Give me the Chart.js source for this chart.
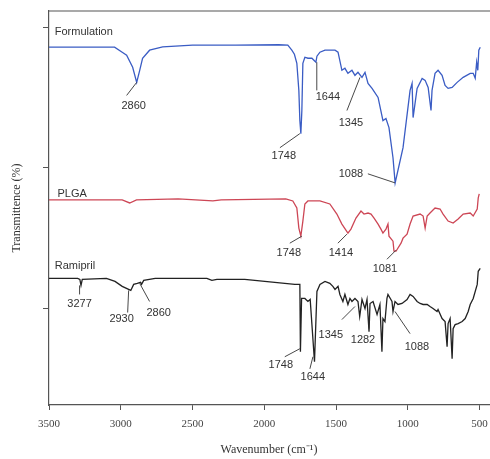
<!DOCTYPE html>
<html>
<head>
<meta charset="utf-8">
<script src="https://cdn.jsdelivr.net/npm/chart.js@4/dist/chart.umd.min.js"></script>
<style>
  html, body { margin: 0; padding: 0; background: #fff; }
  #wrap { width: 490px; height: 459px; }
</style>
</head>
<body>
<div id="wrap"><canvas id="ftir"></canvas></div>
<script>
// FTIR spectra, wavenumber (cm-1) vs offset transmittance (arbitrary units)
const formWave = [3500,3100,3043,2990,2959,2917,2889,2868,2848,2799,2708,2500,2200,1900,1836,1808,1790,1773,1759,1752,1745,1738,1731,1717,1696,1668,1647,1640,1633,1612,1577,1507,1486,1459,1438,1417,1389,1368,1347,1319,1298,1277,1249,1207,1173,1152,1131,1103,1088,1033,984,970,963,935,900,879,858,838,831,810,789,761,740,719,691,656,614,565,544,530,520,512,505,495];
const formT = [89,89,89,87.75,87,84,80.25,83.25,86.25,88.25,89.1,89.5,89.5,89.6,89.5,88.25,87.25,85,78.25,70.75,67.5,73.25,85,86.5,86.25,86.25,85.5,85.25,86.75,87.75,88.25,88.25,87.75,83.25,83.75,82.5,83.25,82,82.75,81.5,82.75,80,78.75,76.5,70.75,71.25,69,61.5,55.25,64,78.25,80,71.5,78.75,81.25,80.75,79,73.25,78.25,82.5,83.25,82,79.5,78.75,79,80.25,81.5,82.5,82.5,81.25,85.25,83.25,88.25,89];

const plgaWave = [3500,2990,2938,2890,2600,2358,2300,1850,1801,1773,1759,1745,1731,1717,1696,1612,1543,1494,1459,1417,1396,1361,1326,1305,1277,1256,1235,1207,1187,1173,1152,1138,1131,1103,1096,1082,1047,1033,1005,984,963,914,893,879,865,845,810,775,754,719,684,649,614,565,544,516,509,502];
const plgaT = [51,51,50.25,51,51.25,50.75,51,51.25,50.75,49,44,42,45.75,50,50.75,50.75,50,47.5,45,42.75,43.75,46.5,48.25,47.5,47.75,47.5,46.5,45,43.75,42.75,43.75,45,42,40.75,38.25,38.25,40.25,41.5,42.5,45,47,47.5,47,44,47,47.75,49,48.75,47.5,45.75,45.25,46.25,47.5,47.75,47,48.75,51.5,52.5];

const ramWave = [3500,3300,3285,3277,3268,3100,3040,2990,2945,2930,2910,2885,2862,2855,2840,2760,2400,2365,2330,2136,1857,1787,1752,1748,1740,1717,1696,1680,1650,1633,1612,1577,1543,1522,1507,1486,1473,1452,1438,1417,1403,1389,1368,1347,1335,1319,1298,1284,1270,1263,1242,1214,1194,1180,1173,1159,1145,1138,1110,1103,1089,1068,1040,1005,984,963,935,914,893,865,845,824,796,789,761,740,726,719,705,691,684,670,649,621,600,579,565,544,516,509,495];
const ramT = [31.5,31.5,31.25,29.75,31.25,31.5,30.75,29.5,28.75,28.5,30,30.25,30.5,30,31,31.5,31.5,31,31.25,31.25,30.25,30,30,13.25,26.5,26.5,25.75,26.25,10.75,28.25,30,30.75,30.25,29.5,28.75,29.5,27.5,25.75,27.5,25,26.5,25.75,26.5,25.75,22,26.25,24,26.25,18.25,25.25,25.75,22.5,25,13.25,21.5,20.75,26.5,27.5,25.75,23.25,25.75,25,25.25,26.25,27.5,27,25.75,25.25,25,25,24.5,24,23.25,23.75,21.5,20.75,14.5,20.25,21.5,11.5,19,20,20.25,20.75,21.5,23.25,25,26.5,30,33.25,34];

const xTicks = [3500, 3000, 2500, 2000, 1500, 1000, 500];
const yTicks = [24, 59, 94];

// spectrum names: [text, wavenumber, value]
const seriesNames = [
  ['Formulation', 3460, 92.75],
  ['PLGA', 3441, 52.5],
  ['Ramipril', 3460, 34.5]
];

// peak labels: [text, wavenumber, value, leader from (w, v), leader to (w, v)]
const peakNotes = [
  ['2860', 2910, 74.5, 2889, 80.25, 2959, 77],
  ['1748', 1864, 62, 1752, 67.5, 1891, 64],
  ['1644', 1556, 76.5, 1634, 85.25, 1634, 78.25],
  ['1345', 1396, 70.25, 1333, 81.5, 1424, 73.25],
  ['1088', 1396, 57.5, 1089, 55.25, 1278, 57.5],
  ['1748', 1829, 37.75, 1738, 42, 1822, 40.25],
  ['1414', 1466, 37.75, 1424, 42.5, 1487, 40.25],
  ['1081', 1159, 33.75, 1082, 38.5, 1145, 36.25],
  ['3277', 3287, 25.25, 3287, 29.75, 3287, 27.5],
  ['2930', 2994, 21.5, 2945, 28.5, 2952, 23],
  ['2860', 2736, 23, 2868, 30.25, 2799, 25.75],
  ['1748', 1885, 10, 1752, 14, 1857, 12],
  ['1644', 1662, 7, 1661, 12, 1682, 9],
  ['1345', 1536, 17.5, 1368, 24.5, 1459, 21.25],
  ['1282', 1312, 16.25, 1270, 22, 1270, 19],
  ['1088', 936, 14.5, 1089, 23.25, 984, 17.75]
];

function pts(ws, ts) {
  return ws.map((w, i) => ({ x: w, y: ts[i] }));
}

const notesPlugin = {
  id: 'notes',
  afterDatasetsDraw(chart) {
    const ctx = chart.ctx;
    const xs = chart.scales.x, ys = chart.scales.y;
    const area = chart.chartArea;
    ctx.save();
    // top frame line
    ctx.strokeStyle = '#555';
    ctx.lineWidth = 1.2;
    ctx.beginPath();
    ctx.moveTo(area.left, area.top);
    ctx.lineTo(chart.width, area.top);
    ctx.stroke();

    ctx.fillStyle = '#333';
    ctx.font = '11px "Liberation Sans", Arial, sans-serif';
    ctx.textBaseline = 'middle';
    ctx.textAlign = 'left';
    seriesNames.forEach(n => {
      ctx.fillText(n[0], xs.getPixelForValue(n[1]), ys.getPixelForValue(n[2]));
    });

    ctx.textAlign = 'center';
    ctx.strokeStyle = '#333';
    ctx.lineWidth = 0.9;
    peakNotes.forEach(p => {
      ctx.fillText(p[0], xs.getPixelForValue(p[1]), ys.getPixelForValue(p[2]));
      ctx.beginPath();
      ctx.moveTo(xs.getPixelForValue(p[3]), ys.getPixelForValue(p[4]));
      ctx.lineTo(xs.getPixelForValue(p[5]), ys.getPixelForValue(p[6]));
      ctx.stroke();
    });
    ctx.restore();
  }
};

new Chart(document.getElementById('ftir'), {
  type: 'line',
  data: {
    datasets: [
      { label: 'Formulation', data: pts(formWave, formT), borderColor: 'rgb(58, 92, 196)', borderWidth: 1.3 },
      { label: 'PLGA', data: pts(plgaWave, plgaT), borderColor: 'rgb(205, 70, 85)', borderWidth: 1.3 },
      { label: 'Ramipril', data: pts(ramWave, ramT), borderColor: '#222', borderWidth: 1.3 }
    ]
  },
  options: {
    responsive: true,
    maintainAspectRatio: false,
    animation: false,
    layout: { padding: { top: 11, right: 1, left: 0, bottom: 0 } },
    elements: {
      point: { radius: 0 },
      line: { tension: 0, fill: false }
    },
    plugins: {
      legend: { display: false },
      tooltip: { enabled: false }
    },
    scales: {
      x: {
        type: 'linear',
        reverse: true,
        min: 434,
        max: 3500,
        afterBuildTicks: s => { s.ticks = xTicks.map(v => ({ value: v })); },
        afterFit: s => { s.height = 54; s.paddingLeft = 0; s.paddingRight = 0; },
        ticks: {
          color: '#444',
          font: { family: '"Liberation Serif", "Times New Roman", serif', size: 11 },
          padding: 8,
          maxRotation: 0,
          callback: v => String(v)
        },
        grid: { drawOnChartArea: false, drawTicks: true, tickLength: 5, color: '#555' },
        border: { display: true, color: '#555', width: 1.2 },
        title: {
          display: true,
          text: 'Wavenumber (cm\u207B\u00B9)',
          color: '#333',
          font: { family: '"Liberation Serif", "Times New Roman", serif', size: 12 },
          padding: { top: 0, bottom: 2 }
        }
      },
      y: {
        min: 0,
        max: 98,
        afterBuildTicks: s => { s.ticks = yTicks.map(v => ({ value: v })); },
        afterFit: s => { s.width = 49; },
        ticks: { display: false },
        grid: { drawOnChartArea: false, drawTicks: true, tickLength: 6, color: '#555' },
        border: { display: true, color: '#555', width: 1.2 },
        title: {
          display: true,
          text: 'Transmittence (%)',
          color: '#333',
          font: { family: '"Liberation Serif", "Times New Roman", serif', size: 12 },
          padding: { top: 10, bottom: 0 }
        }
      }
    }
  },
  plugins: [notesPlugin]
});
</script>
</body>
</html>
